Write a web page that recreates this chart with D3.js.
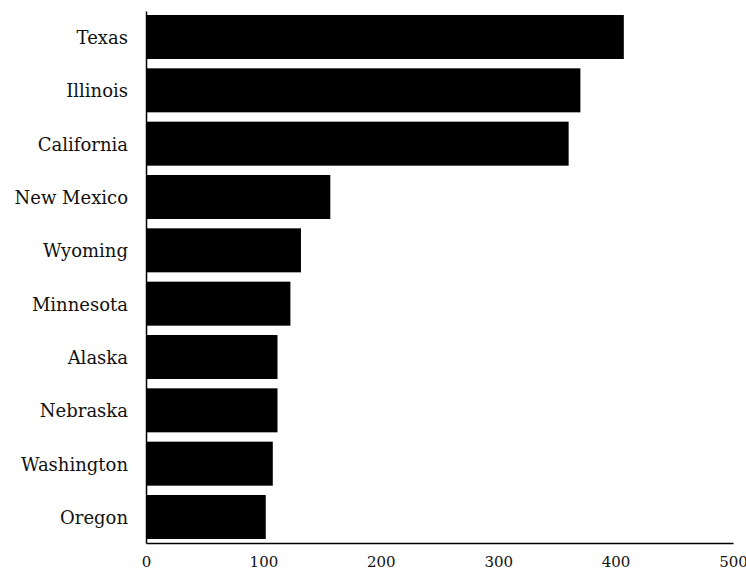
<!DOCTYPE html>
<html>
<head>
<meta charset="utf-8">
<script src="https://cdn.jsdelivr.net/npm/d3@7"></script>
<style>
  html, body { margin: 0; padding: 0; background: #fff; }
  svg { display: block; }
</style>
</head>
<body>
<svg id="chart" width="746" height="571"></svg>
<script>
const states = ["Texas", "Illinois", "California", "New Mexico", "Wyoming", "Minnesota", "Alaska", "Nebraska", "Washington", "Oregon"];
const values = [407, 370, 360, 157, 132, 123, 112, 112, 108, 102];
const xTicks = [0, 100, 200, 300, 400, 500];

(function () {
const svg = d3.select("#chart");
const mLeft = 146, mRight = 733, mTop = 11, mBottom = 543;
const serif = "'Palatino Linotype', 'Book Antiqua', Palatino, 'DejaVu Serif', serif";

const x = d3.scaleLinear().domain([0, 500]).range([mLeft, mRight]);
const y = d3.scaleBand().domain(states).range([mTop, mBottom])
  .paddingInner(0.175).paddingOuter(0.075);

svg.append("g")
  .selectAll("rect")
  .data(states)
  .join("rect")
  .attr("x", x(0))
  .attr("y", d => y(d))
  .attr("width", (d, i) => x(values[i]) - x(0))
  .attr("height", y.bandwidth())
  .attr("fill", "#000");

const xAxis = svg.append("g")
  .attr("transform", `translate(0,${mBottom})`)
  .call(d3.axisBottom(x).tickValues(xTicks).tickSize(0).tickPadding(13).tickFormat(d3.format("d")));
xAxis.select(".domain").attr("stroke", "#000").attr("stroke-width", 1.5);
xAxis.selectAll("text")
  .attr("font-family", serif)
  .attr("font-size", 15)
  .attr("fill", "#111");

const yAxis = svg.append("g")
  .attr("transform", `translate(${mLeft},0)`)
  .call(d3.axisLeft(y).tickSize(0).tickPadding(18));
yAxis.select(".domain").attr("stroke", "#000").attr("stroke-width", 1.5);
yAxis.selectAll("text")
  .attr("font-family", serif)
  .attr("font-size", 18)
  .attr("dy", "0.38em")
  .attr("fill", "#111");
})();
</script>
</body>
</html>
